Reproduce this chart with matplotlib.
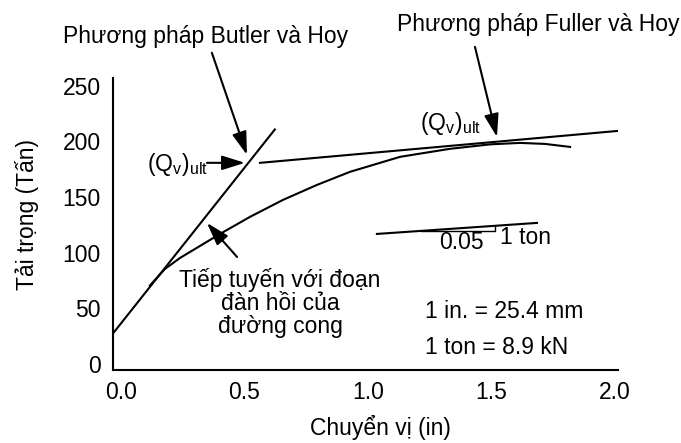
import numpy as np
import matplotlib
matplotlib.use("Agg")
import matplotlib.pyplot as plt

plt.rcParams['font.family'] = ['Liberation Sans', 'DejaVu Sans']
plt.rcParams['mathtext.fontset'] = 'custom'
plt.rcParams['mathtext.rm'] = 'Liberation Sans'
plt.rcParams['font.size'] = 16.5

# đường cong tải trọng - chuyển vị (in, tấn)
chuyen_vi = [0.117, 0.178, 0.239, 0.320, 0.401, 0.522, 0.656, 0.794, 0.927,
             1.130, 1.332, 1.494, 1.615, 1.717, 1.818]
tai_trong = [70.5, 85.4, 95.3, 106.1, 116.9, 132.2, 147.5, 161.0, 172.7,
             186.2, 193.4, 197.4, 198.7, 197.8, 195.1]

# tiếp tuyến đoạn đàn hồi (Butler & Hoy)
butler_x = [-0.032, 0.623]
butler_y = [27.5, 210.8]

# đường độ dốc 0.05 in / 1 ton (Fuller & Hoy)
fuller_x = [0.563, 2.012]
fuller_y = [180.8, 209.5]

# tam giác độ dốc
doc_x = [1.036, 1.684]
doc_y = [116.9, 126.8]
tamgiac_x = [1.213, 1.514, 1.514]
tamgiac_y = [119.6, 119.6, 124.2]

xticks = [0.0, 0.5, 1.0, 1.5, 2.0]
yticks = [0, 50, 100, 150, 200, 250]

fig = plt.figure(figsize=(6.81, 4.43), dpi=100)
ax = fig.add_axes([0.166, 0.1648, 0.7415, 0.659])

lw = 1.5
ax.plot(chuyen_vi, tai_trong, color='black', lw=lw)
ax.plot(butler_x, butler_y, color='black', lw=lw)
ax.plot(fuller_x, fuller_y, color='black', lw=lw)
ax.plot(doc_x, doc_y, color='black', lw=lw)
ax.plot(tamgiac_x, tamgiac_y, color='black', lw=1.0)

ax.set_xlim(-0.032, 2.012)
ax.set_ylim(-5.4, 257)
ax.set_xticks(xticks)
ax.set_xticklabels([f"{v:.1f}" for v in xticks])
ax.set_yticks(yticks)
ax.tick_params(axis='x', length=0, pad=8, labelsize=16.5)
ax.tick_params(axis='y', length=0, pad=9, labelsize=16.5)
ax.spines['top'].set_visible(False)
ax.spines['right'].set_visible(False)
ax.spines['left'].set_linewidth(1.5)
ax.spines['bottom'].set_linewidth(1.5)

fig.text(27 / 681, 1 - 215 / 443, 'Tải trọng (Tấn)', rotation=90,
         ha='center', va='center')
fig.text(380 / 681, 1 - 428 / 443, 'Chuyển vị (in)', ha='center', va='center')

mui_ten = dict(arrowstyle='-|>,head_length=0.7,head_width=0.22', color='black',
               lw=1.5, mutation_scale=20, shrinkA=0, shrinkB=0)

def ve_mui_ten(tu, den):
    ax.annotate('', xy=den, xytext=tu, arrowprops=mui_ten, annotation_clip=False)

ve_mui_ten((0.368, 279.7), (0.510, 188.0))
ve_mui_ten((0.348, 180.8), (0.502, 180.8))
ve_mui_ten((1.433, 285.0), (1.522, 204.0))
ve_mui_ten((0.470, 96.2), (0.348, 126.8))

ax.text(-0.235, 294, 'Phương pháp Butler và Hoy', ha='left', va='center', clip_on=False)
ax.text(1.117, 304.9, 'Phương pháp Fuller và Hoy', ha='left', va='center', clip_on=False)
ax.text(0.105, 173.6, r'(Q$_\mathrm{v}$)$_\mathrm{ult}$', ha='left', va='baseline')
ax.text(1.211, 210.4, r'(Q$_\mathrm{v}$)$_\mathrm{ult}$', ha='left', va='baseline')
ax.text(0.644, 54.9, 'Tiếp tuyến với đoạn\nđàn hồi của\nđường cong',
        ha='center', va='center', multialignment='center', linespacing=1.0)
ax.text(1.231, 46.8, '1 in. = 25.4 mm', ha='left', va='center')
ax.text(1.231, 14.4, '1 ton = 8.9 kN', ha='left', va='center')
ax.text(1.377, 108.8, '0.05', ha='center', va='center')
ax.text(1.534, 113.3, '1 ton', ha='left', va='center')

fig.savefig('out.png', dpi=100)
